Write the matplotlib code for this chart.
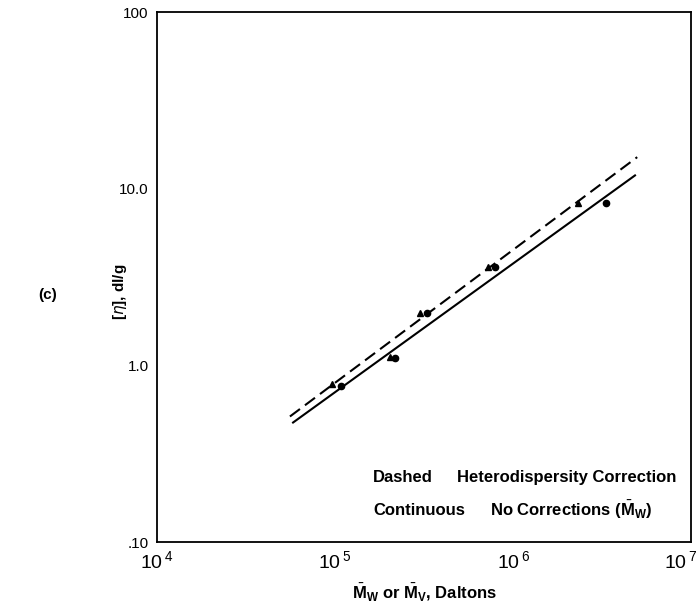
import numpy as np
import matplotlib
matplotlib.use('Agg')
import matplotlib.pyplot as plt
import matplotlib.transforms as mtransforms

plt.rcParams['font.family'] = ['Liberation Sans', 'DejaVu Sans']
plt.rcParams['mathtext.fontset'] = 'custom'
plt.rcParams['mathtext.rm'] = 'Liberation Sans'
plt.rcParams['mathtext.bf'] = 'Liberation Sans:bold'

# data points
mw_tri = [96000, 204000, 300000, 724000, 2.32e6]
eta_tri = [0.78, 1.11, 1.97, 3.59, 8.27]
mw_dot = [108000, 217000, 329000, 793000, 3.33e6]
eta_dot = [0.76, 1.10, 1.97, 3.59, 8.27]

# fitted lines (end points)
dash_m = [55800, 4.98e6]
dash_eta = [0.514, 15.1]
solid_m = [58100, 4.84e6]
solid_eta = [0.475, 11.9]

x_ticks = [1e4, 1e5, 1e6, 1e7]
x_labels = ['10$^{\\,4}$', '10$^{\\,5}$', '10$^{\\,6}$', '10$^{\\,7}$']
y_ticks = [0.1, 1, 10, 100]
y_labels = ['.10', '1.0', '10.0', '100']

fig = plt.figure(figsize=(7, 6.05), dpi=100)
ax = fig.add_axes([0.2243, 0.104, 0.763, 0.876])

ax.plot(dash_m, dash_eta, color='black', lw=1.5, dashes=(6, 3))
ax.plot(solid_m, solid_eta, color='black', lw=1.5)
ax.plot(mw_tri, eta_tri, '^', color='black', ms=5)
ax.plot(mw_dot, eta_dot, 'o', color='black', ms=4.5)

ax.set_xscale('log')
ax.set_yscale('log')
ax.set_xlim(1e4, 1e7)
ax.set_ylim(0.1, 100)

# labels at the ends, tick marks only in the middle
ax.set_xticks(x_ticks)
ax.set_xticklabels(x_labels, fontsize=14)
ax.set_yticks(y_ticks)
ax.set_yticklabels(y_labels, fontsize=11)
ax.set_xticks([1e5, 1e6], minor=True)
ax.set_yticks([1, 10], minor=True)
ax.xaxis.set_minor_formatter(matplotlib.ticker.NullFormatter())
ax.yaxis.set_minor_formatter(matplotlib.ticker.NullFormatter())
ax.tick_params(which='major', length=0, pad=6)
ax.tick_params(which='minor', length=9, width=1.2, direction='inout')
for s in ax.spines.values():
    s.set_linewidth(1.3)

# last x label pulled inside the figure
last = ax.get_xticklabels()[-1]
last.set_horizontalalignment('right')
last.set_transform(last.get_transform() + mtransforms.ScaledTranslation(0.06, 0, fig.dpi_scale_trans))

ax.set_xlabel(r'$\bar{\mathbf{M}}_{\mathbf{W}}$ or $\bar{\mathbf{M}}_{\mathbf{V}}$, Daltons',
              fontsize=12, fontweight='bold', labelpad=6)
ax.set_ylabel(r'[$\eta$], dl/g', fontsize=11, fontweight='bold')
ax.yaxis.set_label_coords(-0.052, 0.472)

ax.text(0.4045, 0.1226, 'Dashed', transform=ax.transAxes, fontsize=12,
        fontweight='bold', va='center')
ax.text(0.5618, 0.1226, 'Heterodispersity Correction', transform=ax.transAxes,
        fontsize=12, fontweight='bold', va='center')
ax.text(0.4045, 0.0604, 'Continuous', transform=ax.transAxes, fontsize=12,
        fontweight='bold', va='center')
ax.text(0.6236, 0.0604, r'No Corrections ($\bar{\mathbf{M}}_{\mathbf{W}}$)', transform=ax.transAxes,
        fontsize=12, fontweight='bold', va='center')

fig.text(0.054, 0.513, '(c)', fontsize=11, fontweight='bold', va='center')

fig.savefig('out.png', dpi=100)
